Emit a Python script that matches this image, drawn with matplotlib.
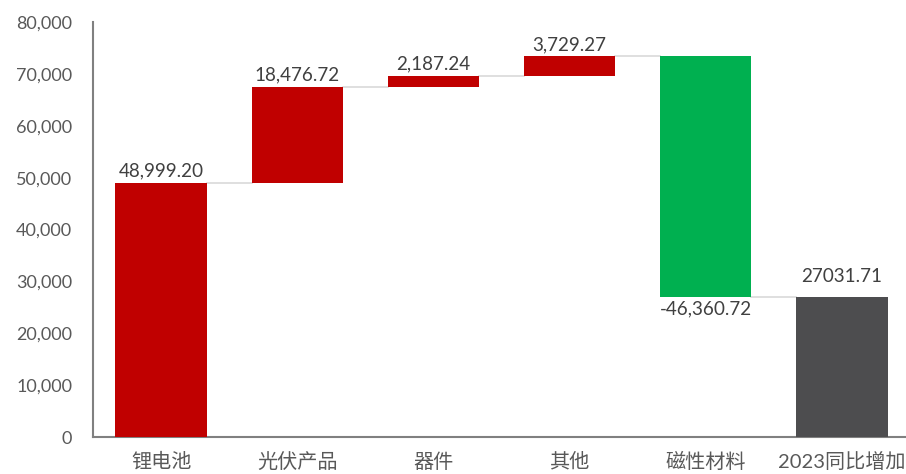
import matplotlib
matplotlib.use("Agg")
import matplotlib.pyplot as plt
import numpy as np

plt.rcParams['font.family'] = ['Lato', 'Noto Sans CJK SC', 'DejaVu Sans']

categories = ['锂电池', '光伏产品', '器件', '其他', '磁性材料', '2023同比增加']
changes = [48999.20, 18476.72, 2187.24, 3729.27, -46360.72]
total = 27031.71
labels = ['48,999.20', '18,476.72', '2,187.24', '3,729.27', '-46,360.72', '27031.71']
colors = ['#C00000', '#C00000', '#C00000', '#C00000', '#00B050', '#4D4D4F']

fig = plt.figure(figsize=(9.06, 4.74), dpi=100)
ax = fig.add_axes([0.1026, 0.078, 0.8974, 0.8756])

x = np.arange(len(categories))
width = 0.67
bottoms = []
heights = []
level = 0.0
for c in changes:
    if c >= 0:
        bottoms.append(level)
        heights.append(c)
    else:
        bottoms.append(level + c)
        heights.append(-c)
    level += c
bottoms.append(0)
heights.append(total)

ax.bar(x, heights, width=width, bottom=bottoms, color=colors, zorder=3)

# connectors
level = 0.0
for i, c in enumerate(changes):
    level += c
    ax.plot([x[i] + width / 2, x[i + 1] - width / 2], [level, level],
            color='#D9D9D9', lw=1.2, zorder=2)

# labels
level = 0.0
txtcol = '#404040'
fs = 13.6
for i, c in enumerate(changes):
    if c >= 0:
        ax.text(x[i], level + c + 600, labels[i], ha='center', va='bottom',
                fontsize=fs, color=txtcol)
    else:
        ax.text(x[i], level + c - 600, labels[i], ha='center', va='top',
                fontsize=fs, color=txtcol)
    level += c
ax.text(x[-1], total + 2300, labels[-1], ha='center', va='bottom', fontsize=fs, color=txtcol)

ax.set_xlim(-0.5, 5.47)
ax.set_ylim(0, 80000)
ax.set_yticks(np.arange(0, 80001, 10000))
ax.set_yticklabels([f'{v:,}' for v in range(0, 80001, 10000)])
ax.set_xticks(x)
ax.set_xticklabels(categories)
ax.tick_params(axis='y', length=0, labelsize=13, labelcolor='#595959', pad=15)
ax.tick_params(axis='x', length=0, labelsize=14.5, labelcolor='#595959', pad=11)
for s in ['top', 'right']:
    ax.spines[s].set_visible(False)
for s in ['left', 'bottom']:
    ax.spines[s].set_color('#808080')
    ax.spines[s].set_linewidth(1.5)

fig.savefig('out.png', dpi=100)
